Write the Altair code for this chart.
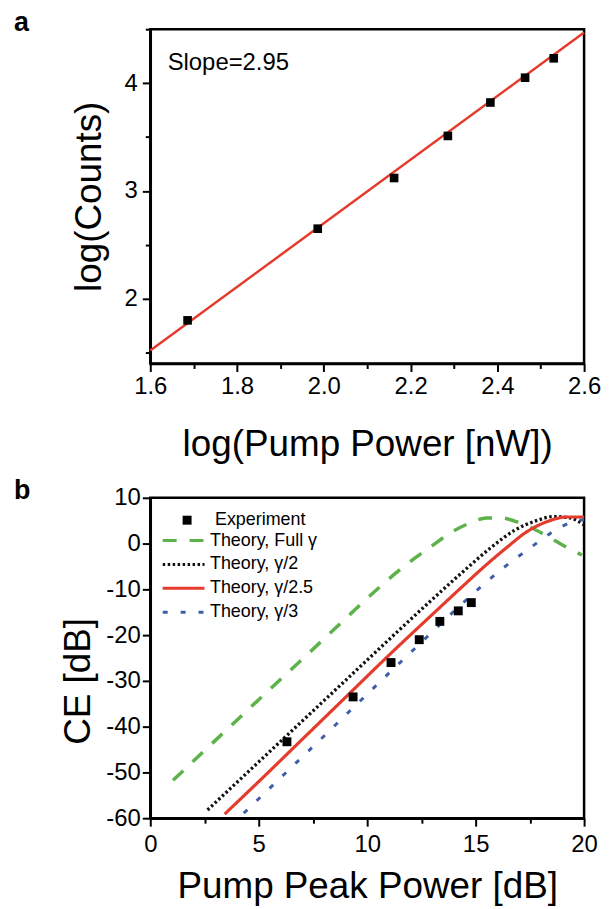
import altair as alt
import pandas as pd

FONT = "Liberation Sans"

# ---------------- Panel a data ----------------
a_x = [1.686, 1.986, 2.162, 2.286, 2.384, 2.464, 2.530]
a_y = [1.80, 2.65, 3.12, 3.51, 3.82, 4.05, 4.23]
fit_x = [1.6, 2.6]
fit_y = [1.52, 4.47]
slope_text = ["Slope=2.95"]
slope_pos_x = [1.64]
slope_pos_y = [4.12]
a_xticks = [1.6, 1.7, 1.8, 1.9, 2.0, 2.1, 2.2, 2.3, 2.4, 2.5, 2.6]
a_yticks = [1.5, 1.75, 2.0, 2.25, 2.5, 2.75, 3.0, 3.25, 3.5, 3.75, 4.0, 4.25, 4.5]
panel_labels = ["a", "b"]

# ---------------- Panel b data ----------------
exp_x = [6.3, 9.35, 11.1, 12.4, 13.35, 14.2, 14.8]
exp_y = [-43.3, -33.5, -26.0, -21.0, -17.0, -14.7, -12.9]

full_x = [1.05, 3.0, 5.0, 7.0, 9.0, 10.5, 11.75, 12.9, 14.0, 14.8, 15.5, 16.2, 16.8, 17.5, 18.2, 19.0, 19.9]
full_y = [-51.7, -43.0, -34.1, -25.3, -16.4, -9.8, -4.8, -0.8, 2.8, 4.6, 5.6, 5.6, 4.9, 3.6, 1.9, -0.3, -2.5]

half_x = [2.64, 5.0, 7.0, 9.0, 11.0, 13.0, 14.5, 15.7, 16.8, 17.8, 18.6, 19.35, 20.0]
half_y = [-58.2, -47.7, -38.8, -29.9, -21.0, -12.2, -5.8, -0.9, 2.9, 5.0, 5.9, 5.6, 4.1]

g25_x = [3.43, 5.0, 7.0, 9.0, 11.0, 13.0, 14.5, 15.5, 16.5, 17.3, 18.3, 19.2, 20.0]
g25_y = [-59.1, -52.0, -42.8, -33.6, -24.4, -15.5, -8.9, -4.6, -0.6, 2.4, 4.8, 5.8, 5.8]

third_x = [4.31, 6.0, 8.0, 10.0, 12.0, 13.0, 14.8, 16.2, 17.5, 18.4, 19.0, 19.6, 20.0]
third_y = [-58.9, -51.2, -42.1, -32.9, -23.8, -19.3, -11.3, -5.6, -1.0, 2.1, 3.8, 5.0, 5.2]

series_names = ["Theory, Full \u03b3", "Theory, \u03b3/2", "Theory, \u03b3/2.5", "Theory, \u03b3/3"]
series_colors = ["#5db34a", "#111111", "#e53b2c", "#3f5ea8"]
series_dashes = [[14, 13], [2.5, 2.5], [1, 0], [5, 13]]
series_widths = [3.5, 3.0, 2.5, 3.5]

b_xticks = [0, 2.5, 5, 7.5, 10, 12.5, 15, 17.5, 20]
b_yticks = [-60, -55, -50, -45, -40, -35, -30, -25, -20, -15, -10, -5, 0, 5, 10]

# ---------------- build tables ----------------
df_a = pd.DataFrame({"x": a_x, "y": a_y})
df_fit = pd.DataFrame({"x": fit_x, "y": fit_y})
df_txt = pd.DataFrame({"x": slope_pos_x, "y": slope_pos_y, "t": slope_text})

rows = []
for name, xs, ys in zip(series_names, [full_x, half_x, g25_x, third_x], [full_y, half_y, g25_y, third_y]):
    for xv, yv in zip(xs, ys):
        rows.append({"x": xv, "y": yv, "series": name})
df_lines = pd.DataFrame(rows)
df_exp = pd.DataFrame({"x": exp_x, "y": exp_y, "label": ["Experiment"] * len(exp_x)})

TITLE_FS = 37
LABEL_FS = 24
W = 436


def cond(test, major, minor):
    return {"condition": {"test": test, "value": major}, "value": minor}


def panel_label(text, dy):
    return alt.Chart(pd.DataFrame({"t": [text]})).mark_text(
        align="left", baseline="alphabetic", fontSize=27, fontWeight="bold", font=FONT, color="black"
    ).encode(text="t:N", x=alt.value(-137), y=alt.value(dy))


# ---------------- Panel a ----------------
ax_test = "abs(datum.value*5 - round(datum.value*5)) < 0.01"
ay_test = "abs(datum.value - round(datum.value)) < 0.01"

xa = alt.X("x:Q", scale=alt.Scale(domain=[1.6, 2.6], nice=False, zero=False),
           axis=alt.Axis(values=a_xticks, labelExpr=f"{ax_test} ? format(datum.value, '.1f') : ''",
                         tickSize=cond(ax_test, 8, 5), labelPadding=3, labelFontSize=LABEL_FS,
                         title="log(Pump Power [nW])", titleFontSize=TITLE_FS,
                         titleBaseline="alphabetic", titleY=92, labelFlush=False))
ya = alt.Y("y:Q", scale=alt.Scale(domain=[1.4, 4.5], nice=False, zero=False),
           axis=alt.Axis(values=a_yticks, labelExpr=f"{ay_test} ? format(datum.value, 'd') : ''",
                         tickSize=cond(ay_test, 8, 5), labelPadding=5, labelFontSize=LABEL_FS,
                         title="log(Counts)", titleFontSize=TITLE_FS, titleX=-42, labelFlush=False))

fit = alt.Chart(df_fit).mark_line(color="#e53b2c", strokeWidth=2.5).encode(x=xa, y=ya)
pts_a = alt.Chart(df_a).mark_square(color="black", size=75, opacity=1).encode(x="x:Q", y="y:Q")
txt_a = alt.Chart(df_txt).mark_text(align="left", baseline="alphabetic", fontSize=24, font=FONT,
                                    color="black").encode(x="x:Q", y="y:Q", text="t:N")

panel_a = alt.layer(fit, pts_a, txt_a, panel_label(panel_labels[0], 2)).properties(width=W, height=336)

# ---------------- Panel b ----------------
bx_test = "datum.value % 5 === 0"
by_test = "datum.value % 10 === 0"

xb = alt.X("x:Q", scale=alt.Scale(domain=[0, 20], nice=False),
           axis=alt.Axis(values=b_xticks, labelExpr=f"{bx_test} ? '' + datum.value : ''",
                         tickSize=cond(bx_test, 8, 5), labelPadding=6, labelFontSize=LABEL_FS,
                         title="Pump Peak Power [dB]", titleFontSize=TITLE_FS,
                         titleBaseline="alphabetic", titleY=80, labelFlush=False))
yb = alt.Y("y:Q", scale=alt.Scale(domain=[-60, 10], nice=False),
           axis=alt.Axis(values=b_yticks, labelExpr=f"{by_test} ? '' + datum.value : ''",
                         tickSize=cond(by_test, 8, 5), labelPadding=2, labelFontSize=LABEL_FS,
                         title="CE [dB]", titleFontSize=TITLE_FS, titleX=-53, titleY=184,
                         labelFlush=False))

line_legend = alt.Legend(title=None, orient="none", legendX=21.5, legendY=31, symbolType="M-2,0H2",
                         symbolSize=441, symbolStrokeWidth=3, labelFontSize=18, labelFont=FONT,
                         labelColor="black", labelOffset=14.5, padding=0, rowPadding=3)
lines = alt.Chart(df_lines).mark_line(interpolate="monotone", strokeCap="butt").encode(
    x=xb, y=yb,
    color=alt.Color("series:N", scale=alt.Scale(domain=series_names, range=series_colors), legend=line_legend),
    strokeDash=alt.StrokeDash("series:N", scale=alt.Scale(domain=series_names, range=series_dashes),
                              legend=line_legend),
    strokeWidth=alt.StrokeWidth("series:N", scale=alt.Scale(domain=series_names, range=series_widths),
                                legend=None),
)
pts_b = alt.Chart(df_exp).mark_point(filled=True, color="black", size=80, opacity=1).encode(
    x="x:Q", y="y:Q",
    shape=alt.Shape("label:N", scale=alt.Scale(domain=["Experiment"], range=["square"]),
                    legend=alt.Legend(title=None, orient="none", legendX=28, legendY=13.5, symbolSize=81,
                                      symbolFillColor="black", symbolStrokeColor="black",
                                      labelFontSize=18, labelFont=FONT, labelColor="black",
                                      labelOffset=19, padding=0)),
)

panel_b = alt.layer(lines, pts_b, panel_label(panel_labels[1], 1)).properties(width=W, height=322)

chart = alt.vconcat(panel_a, panel_b, spacing=11).resolve_legend(
    color="independent", strokeDash="independent", shape="independent"
).properties(
    padding={"left": 4, "top": -3, "right": 0, "bottom": 3}
).configure(font=FONT).configure_view(stroke="black", strokeWidth=2.5).configure_axis(
    domainColor="black", domainWidth=2.5, tickColor="black", tickWidth=2,
    labelColor="black", titleColor="black", labelFont=FONT, titleFont=FONT,
    grid=False, titleFontWeight="normal"
)

chart.save("out.html", embed_options={"renderer": "svg", "actions": False})
